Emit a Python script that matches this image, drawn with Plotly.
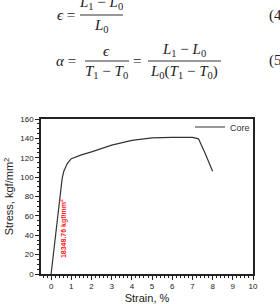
import plotly.graph_objects as go

# ---- data ----
strain = [0, 0.2, 0.4, 0.55, 0.63, 0.8, 1.0, 1.5, 2.0, 3.0, 4.0, 5.0, 6.0, 7.0, 7.3, 7.6, 8.0]
stress = [0, 36, 72, 99, 106, 114, 119, 123, 126, 133, 138, 140.5, 141, 141, 139.5, 126, 106]
series_name = "Core"
modulus_label = "18348.76 kgf/mm<sup>2</sup>"
x_ticks = list(range(0, 11))
y_ticks = list(range(0, 161, 20))

W, H = 280, 304
L, R, T, B = 41, 27, 119, 30
PW, PH = W - L - R, H - T - B

def px(x):
    return (x - L) / PW

def py(y):
    return (H - B - y) / PH

fig = go.Figure()
fig.add_trace(go.Scatter(x=strain, y=stress, mode="lines", name=series_name,
                         line=dict(color="#333333", width=1.2)))

fig.update_layout(
    width=W, height=H,
    margin=dict(l=L, r=R, t=T, b=B, autoexpand=False),
    paper_bgcolor="white", plot_bgcolor="white",
    font=dict(family="Liberation Sans, Arial", color="#222222", size=8),
    showlegend=True,
    legend=dict(x=px(190), y=py(127), xanchor="left", yanchor="middle",
                bgcolor="rgba(0,0,0,0)", font=dict(size=9, color="#333333"),
                itemwidth=30, tracegroupgap=0),
    xaxis=dict(range=[-0.5, 10], tickvals=x_ticks, ticks="outside", ticklen=4,
               tickwidth=1, tickcolor="#222", showline=True, linecolor="#222",
               linewidth=1.5, mirror=True, showgrid=False, zeroline=False,
               minor=dict(dtick=0.2, ticks="outside", ticklen=2, tickcolor="#222", showgrid=False),
               title=dict(text="Strain, %", font=dict(size=11), standoff=4),
               tickfont=dict(size=8)),
    yaxis=dict(range=[0, 160], tickvals=y_ticks, ticks="outside", ticklen=4,
               tickwidth=1, tickcolor="#222", showline=True, linecolor="#222",
               linewidth=1.5, mirror=True, showgrid=False, zeroline=False,
               minor=dict(dtick=5, ticks="outside", ticklen=2, tickcolor="#222", showgrid=False),
               title=dict(text="Stress, kgf/mm<sup>2</sup>", font=dict(size=11), standoff=4),
               tickfont=dict(size=8)),
)

# modulus annotation (rotated, red)
fig.add_annotation(x=0.62, y=47, xref="x", yref="y", text="<b>" + modulus_label + "</b>",
                   showarrow=False, textangle=-90,
                   font=dict(family="Liberation Sans Narrow, Liberation Sans", size=7, color="#ff2020"))

# equations
ef = dict(family="Liberation Serif, Times New Roman, serif", size=15, color="#222222")

def eq_text(x, y, text, anchor="center"):
    fig.add_annotation(x=px(x), y=py(y), xref="paper", yref="paper", text=text,
                       showarrow=False, xanchor=anchor, yanchor="middle", font=ef)

def frac_line(x0, x1, y):
    fig.add_shape(type="line", xref="paper", yref="paper", x0=px(x0), x1=px(x1),
                  y0=py(y), y1=py(y), line=dict(color="#333333", width=1))

# (4)
eq_text(66, 15, "<i>ϵ</i> =")
eq_text(101, 3, "<i>L</i><sub>1</sub> − <i>L</i><sub>0</sub>")
frac_line(80, 123, 15)
eq_text(101, 26, "<i>L</i><sub>0</sub>")
eq_text(267, 15, "(4)", anchor="left")

# (5)
eq_text(66, 61, "<i>α</i> =")
eq_text(106, 51, "<i>ϵ</i>")
frac_line(85, 129, 61)
eq_text(106, 72, "<i>T</i><sub>1</sub> − <i>T</i><sub>0</sub>")
eq_text(137, 61, "=")
eq_text(184, 50, "<i>L</i><sub>1</sub> − <i>L</i><sub>0</sub>")
frac_line(148, 221, 61)
eq_text(184, 72, "<i>L</i><sub>0</sub>(<i>T</i><sub>1</sub> − <i>T</i><sub>0</sub>)")
eq_text(267, 61, "(5)", anchor="left")

fig.write_html("out.html")
